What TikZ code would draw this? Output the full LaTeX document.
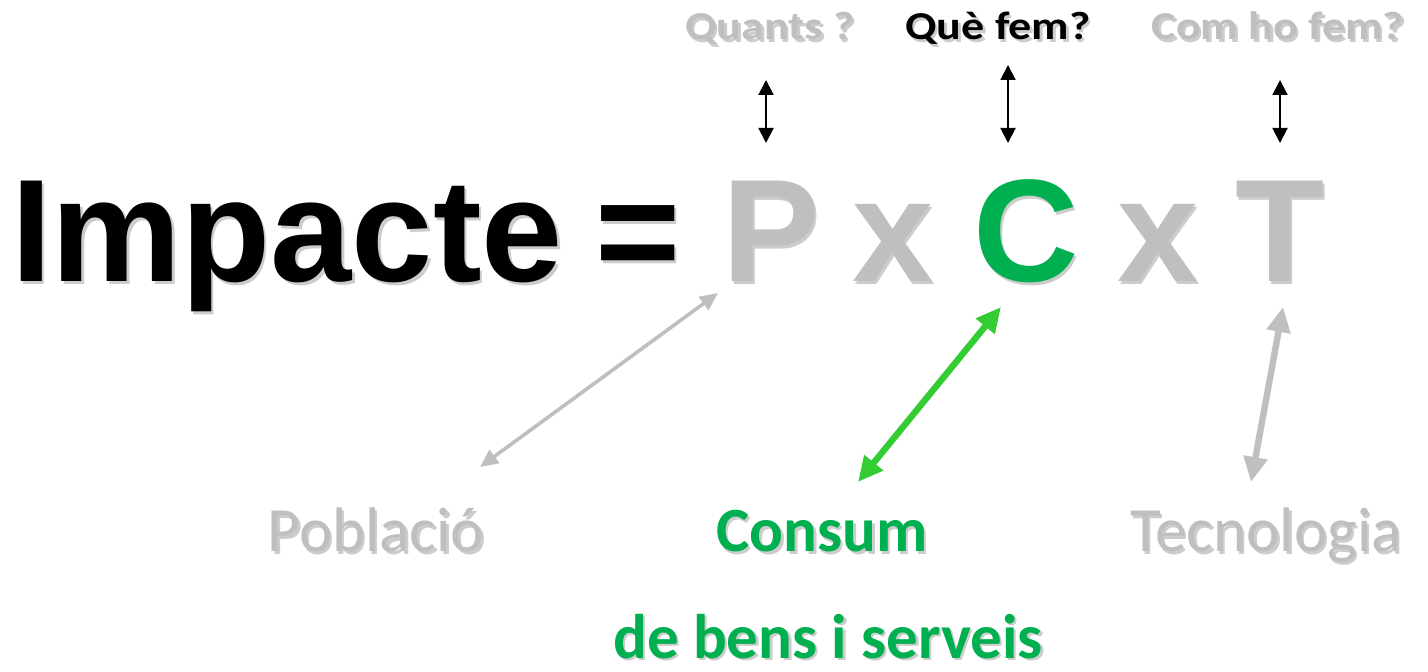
\documentclass[tikz,border=0pt]{standalone}
\usepackage{graphicx}
\usepackage{fontspec}
\setmainfont{Carlito}
\newfontfamily\arialfont{Liberation Sans}
\usetikzlibrary{arrows.meta}
\definecolor{lgray}{RGB}{191,191,191}
\definecolor{cgreen}{RGB}{0,176,80}
\definecolor{agreen}{RGB}{51,204,51}
% soft drop shadow under a text
\newcommand\shadowed[1]{\rlap{\kern1.25pt\raisebox{-1.5pt}{\color{black!20}#1}}#1}

\begin{document}
\begin{tikzpicture}[x=0.5pt, y=-0.5pt,
  big/.style={inner sep=0pt, anchor=base, font=\arialfont\bfseries\fontsize{73}{73}\selectfont},
  ask/.style={inner sep=0pt, anchor=base, font=\bfseries\fontsize{23}{23}\selectfont},
  term/.style={inner sep=0pt, anchor=base, font=\fontsize{31.5}{31.5}\selectfont},
  tick/.style={line width=1pt, {Triangle[width=7.5pt,length=7.5pt]}-{Triangle[width=7.5pt,length=7.5pt]}},
  thinlink/.style={lgray, line width=1.8pt, {Triangle[width=8pt,length=9pt]}-{Triangle[width=8pt,length=9pt]}},
  fatlink/.style={line width=3.2pt, {Triangle[width=11.5pt,length=12.5pt]}-{Triangle[width=11.5pt,length=12.5pt]}}]
  \fill[white] (0,0) rectangle (1428,672);
  \useasboundingbox (0,0) rectangle (1428,672);
  % equation
  \foreach \n/\x/\t/\c in {impacte/287/Impacte/black, eq/638/=/black, P/771/P/lgray,
      x1/893/x/lgray, C/1026/C/cgreen, x2/1158/x/lgray, T/1280/T/lgray}
    \node[big, text=\c] (\n) at (\x,282) {\shadowed{\t}};
  % questions
  \foreach \n/\x/\t/\c in {quants/770/Quants ?/lgray, quefem/998/Què fem?/black,
      comfem/1278/Com ho fem?/lgray}
    \node[ask, text=\c] (\n) at (\x,40) {\shadowed{\scalebox{1}[0.86]{\t}}};
  % terms
  \foreach \n/\x/\y/\t/\c/\w in {pob/376/552/Població/lgray/\mdseries,
      cons/822/552/Consum/cgreen/\bfseries, tec/1266/552/Tecnologia/lgray/\mdseries,
      bens/828/658/de bens i serveis/cgreen/\bfseries}
    \node[term, text=\c] (\n) at (\x,\y) {\w\shadowed{\t}};
  % small arrows
  \coordinate (qa) at (766,80);   \coordinate (qb) at (766,143);
  \coordinate (fa) at (1008,65);  \coordinate (fb) at (1008,143);
  \coordinate (ca) at (1280,80);  \coordinate (cb) at (1280,143);
  \draw[tick] (qa) -- (qb);
  \draw[tick] (fa) -- (fb);
  \draw[tick] (ca) -- (cb);
  % links to the terms
  \coordinate (pa) at (718,293);  \coordinate (pb) at (480,467);
  \coordinate (ga) at (1001,307); \coordinate (gb) at (858,482);
  \coordinate (ta) at (1283,307); \coordinate (tb) at (1251,482);
  \draw[thinlink] (pa) -- (pb);
  \draw[fatlink, agreen] (ga) -- (gb);
  \draw[fatlink, lgray] (ta) -- (tb);
\end{tikzpicture}
\end{document}
